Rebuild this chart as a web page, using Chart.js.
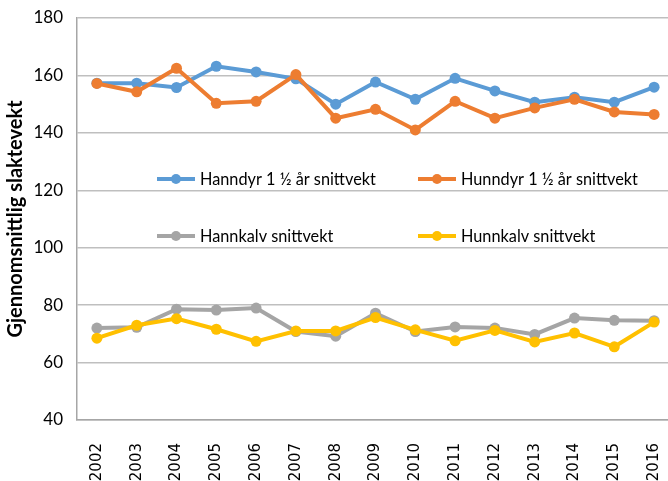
<!DOCTYPE html>
<html>
<head>
<meta charset="utf-8">
<script src="https://cdn.jsdelivr.net/npm/chart.js@4/dist/chart.umd.min.js"></script>
<style>
  html, body { margin: 0; padding: 0; background: #fff; overflow: hidden; }
  #wrap { width: 674px; height: 481px; }
</style>
</head>
<body>
<div id="wrap"><canvas id="chart"></canvas></div>
<script>
const years = ['2002','2003','2004','2005','2006','2007','2008','2009','2010','2011','2012','2013','2014','2015','2016'];
const hanndyr = [157.3, 157.3, 155.8, 163.2, 161.2, 158.8, 150.0, 157.7, 151.7, 159.0, 154.6, 150.7, 152.4, 150.7, 155.9];
const hunndyr = [157.2, 154.3, 162.5, 150.3, 151.0, 160.3, 145.1, 148.2, 141.0, 151.0, 145.1, 148.7, 151.7, 147.3, 146.4];
const hannkalv = [72.0, 72.3, 78.6, 78.3, 79.0, 70.8, 69.2, 77.2, 70.8, 72.4, 72.0, 69.8, 75.5, 74.7, 74.6];
const hunnkalv = [68.5, 73.0, 75.3, 71.6, 67.4, 71.0, 71.0, 75.7, 71.4, 67.6, 71.2, 67.2, 70.3, 65.5, 74.1];
const seriesNames = ['Hanndyr 1 ½ år snittvekt', 'Hunndyr 1 ½ år snittvekt', 'Hannkalv snittvekt', 'Hunnkalv snittvekt'];
const yTicks = [40, 60, 80, 100, 120, 140, 160, 180];

const colors = ['#5B9BD5', '#ED7D31', '#A5A5A5', '#FFC000'];

function ds(i, data, order) {
  return {
    label: seriesNames[i],
    data,
    borderColor: colors[i],
    backgroundColor: colors[i],
    borderWidth: 4,
    pointRadius: 5.5,
    pointHoverRadius: 5.5,
    pointBorderWidth: 0,
    tension: 0,
    order
  };
}

// legend sits inside the plot, 2x2, like the Excel original
const insideLegend = {
  id: 'insideLegend',
  afterDatasetsDraw(chart, args, opts) {
    const { ctx } = chart;
    ctx.save();
    ctx.font = opts.font;
    ctx.textBaseline = 'middle';
    chart.data.datasets.forEach((d, i) => {
      const col = i % 2, row = Math.floor(i / 2);
      const x = opts.cols[col];
      const y = opts.rows[row];
      ctx.strokeStyle = d.borderColor;
      ctx.lineWidth = 4;
      ctx.beginPath();
      ctx.moveTo(x, y);
      ctx.lineTo(x + 38, y);
      ctx.stroke();
      ctx.fillStyle = d.borderColor;
      ctx.beginPath();
      ctx.arc(x + 19, y, 5, 0, Math.PI * 2);
      ctx.fill();
      ctx.fillStyle = '#000';
      ctx.fillText(d.label, x + 43, y + 1);
    });
    ctx.restore();
  }
};

new Chart(document.getElementById('chart').getContext('2d'), {
  type: 'line',
  data: {
    labels: years,
    datasets: [ds(0, hanndyr, 4), ds(1, hunndyr, 3), ds(2, hannkalv, 2), ds(3, hunnkalv, 1)]
  },
  plugins: [insideLegend],
  options: {
    responsive: true,
    maintainAspectRatio: false,
    animation: false,
    layout: { autoPadding: false, padding: { top: 18, right: 0, left: 4, bottom: 0 } },
    plugins: {
      legend: { display: false },
      tooltip: { enabled: false },
      insideLegend: { font: '16.3px Lato', cols: [157, 418], rows: [179, 236] }
    },
    scales: {
      x: {
        offset: true,
        grid: { display: false, drawTicks: false },
        border: { color: '#A6A6A6', width: 1.5 },
        ticks: { color: '#000', font: { family: 'DejaVu Sans', size: 15 }, minRotation: 90, maxRotation: 90, padding: 23, autoSkip: false },
        afterFit(scale) { scale.height = 61; scale.paddingLeft = 0; scale.paddingRight = 0; }
      },
      y: {
        min: 40, max: 180,
        afterBuildTicks(scale) { scale.ticks = yTicks.map(v => ({ value: v })); },
        grid: { color: '#BFBFBF', lineWidth: 1.5, drawTicks: false },
        border: { color: '#A6A6A6', width: 1.5 },
        ticks: { color: '#000', font: { family: 'Lato', size: 17 }, padding: 14 },
        title: { display: true, text: 'Gjennomsnittlig slaktevekt', color: '#000', font: { family: 'Lato', size: 20, weight: 'bold' }, padding: { top: 0, bottom: 0 } },
        afterFit(scale) { scale.width = 73; scale.paddingTop = 0; scale.paddingBottom = 0; }
      }
    }
  }
});
</script>
</body>
</html>
